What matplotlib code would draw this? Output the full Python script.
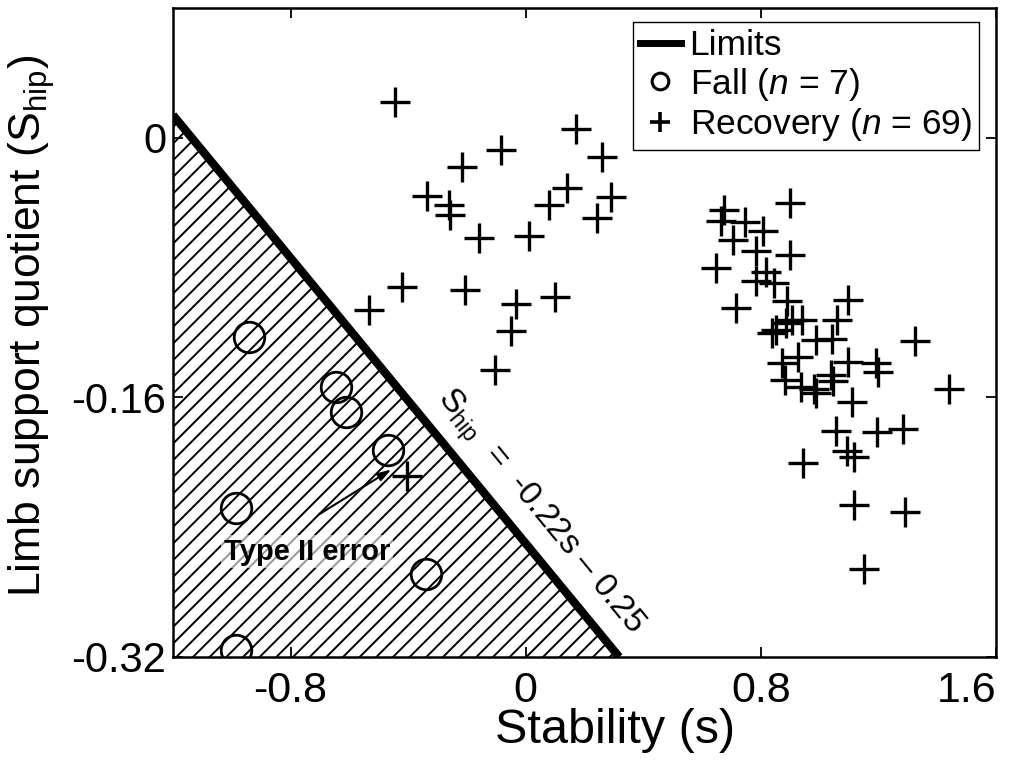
import numpy as np
import matplotlib
matplotlib.use("Agg")
import matplotlib.pyplot as plt
from matplotlib.lines import Line2D

plt.rcParams['font.family'] = 'Liberation Sans'
plt.rcParams['mathtext.fontset'] = 'custom'
plt.rcParams['mathtext.rm'] = 'Liberation Sans'
plt.rcParams['mathtext.it'] = 'Liberation Sans:italic'
plt.rcParams['hatch.linewidth'] = 1.4

# limit line  S_hip = a*s + b
slope = -0.22
intercept = -0.25

# falls (circles)
fall_s = [-0.943, -0.647, -0.611, -0.470, -0.986, -0.338, -0.986]
fall_q = [-0.1226, -0.1533, -0.1690, -0.1925, -0.2283, -0.2686, -0.3156]

# recoveries (plus)
rec_s = [-0.443, 0.170, -0.085, 0.259, -0.218, 0.140, -0.337, -0.262, 0.289, 0.078,
         -0.259, 0.242, -0.160, 0.010, -0.422, -0.208, 0.099, -0.534, -0.034, -0.051,
         -0.106,
         0.899, 0.674, 0.664, 0.746, 0.705, 0.807, 0.899, 0.783, 0.647, 0.817,
         0.783, 0.844, 0.889, 0.715, 1.096, 1.059, 0.906, 0.940, 0.851, 0.837,
         0.885, 0.987, 1.042, 1.324, 0.926, 0.871, 1.096, 1.191, 1.198, 0.882,
         1.038, 1.045, 0.980, 0.987, 0.936, 1.440, 1.110, 1.055, 1.195, 1.283,
         1.093, 1.117, 0.943, 1.117, 1.290, 1.151]
rec_q = [0.0221, 0.0055, -0.0074, -0.0116, -0.0178, -0.0307, -0.0356, -0.0417, -0.0362, -0.0417,
         -0.0478, -0.0497, -0.0619, -0.0607, -0.0920, -0.0938, -0.0981, -0.1061, -0.1024, -0.1189,
         -0.1429,
         -0.0399, -0.0448, -0.0515, -0.0521, -0.0632, -0.0576, -0.0723, -0.0699, -0.0803, -0.0828,
         -0.0883, -0.0895, -0.1006, -0.1048, -0.0999, -0.1122, -0.1122, -0.1122, -0.1183, -0.1202,
         -0.1140, -0.1245, -0.1239, -0.1251, -0.1349, -0.1386, -0.1380, -0.1386, -0.1441, -0.1490,
         -0.1459, -0.1502, -0.1551, -0.1570, -0.1539, -0.1551, -0.1631, -0.1809, -0.1815, -0.1796,
         -0.1931, -0.1968, -0.2005, -0.2262, -0.2305, -0.2655]

# misclassified recovery (type II error)
err_s = [-0.405]
err_q = [-0.2085]

xlim = (-1.2, 1.6)
ylim = (-0.32, 0.08)
xticks = [-0.8, 0, 0.8, 1.6]
xticklabels = ['-0.8', '0', '0.8', '1.6']
yticks = [-0.32, -0.16, 0]
yticklabels = ['-0.32', '-0.16', '0']

fig = plt.figure(figsize=(10.17, 7.66), dpi=100)
ax = fig.add_axes([0.1701, 0.1423, 0.8092, 0.8473])
ax.set_xlim(*xlim)
ax.set_ylim(*ylim)

# hatched fall region below the limit line
x_end = (ylim[0] - intercept) / slope
poly_x = [xlim[0], xlim[0], x_end]
poly_y = [ylim[0], slope * xlim[0] + intercept, ylim[0]]
ax.fill(poly_x, poly_y, facecolor='white', edgecolor='black', hatch='//', lw=0, zorder=1)

lx = np.array([xlim[0], x_end])
ax.plot(lx, slope * lx + intercept, color='black', lw=6, solid_capstyle='butt', zorder=2)

ax.plot(fall_s, fall_q, ls='none', marker='o', ms=22, mfc='none', mec='black', mew=2, zorder=3)
ax.plot(rec_s, rec_q, ls='none', marker='+', ms=22, mec='black', mew=2.4, zorder=3)
ax.plot(err_s, err_q, ls='none', marker='+', ms=22, mec='black', mew=2.4, zorder=3)

# equation along the line
p1 = ax.transData.transform((lx[0], slope * lx[0] + intercept))
p2 = ax.transData.transform((lx[1], slope * lx[1] + intercept))
ang = np.degrees(np.arctan2(p2[1] - p1[1], p2[0] - p1[0]))
ax.text(0.045, -0.231, 'S$_{\\rm hip}$  =  -0.22s \u2013 0.25',
        rotation=ang, rotation_mode='anchor', ha='center', va='center', fontsize=24, zorder=4)

ax.annotate('', xy=(-0.449, -0.2035), xytext=(-0.711, -0.2330),
            arrowprops=dict(arrowstyle='-|>,head_width=0.25,head_length=0.8', lw=1.5, color='black'),
            zorder=4)
ax.text(-0.744, -0.255, 'Type II error', fontsize=21, fontweight='bold', ha='center', va='center',
        bbox=dict(facecolor='white', alpha=0.6, edgecolor='none', pad=2), zorder=4)

ax.set_xticks(xticks)
ax.set_xticklabels(xticklabels, fontsize=31)
ax.set_yticks(yticks)
ax.set_yticklabels(yticklabels, fontsize=30)
ax.xaxis.get_majorticklabels()[-1].set_horizontalalignment('right')
ax.tick_params(direction='in', length=7, width=1.3, top=True, right=True)
ax.tick_params(axis='x', pad=10)
ax.tick_params(axis='y', pad=5)
for sp in ax.spines.values():
    sp.set_linewidth(1.8)

ax.set_xlabel('Stability (s)', fontsize=35)
ax.xaxis.set_label_coords(0.537, -0.078)
ax.set_ylabel(r'Limb support quotient (S$_{\rm hip}$)', fontsize=32)
ax.yaxis.set_label_coords(-0.141, 0.51)

handles = [Line2D([], [], color='black', lw=5),
           Line2D([], [], ls='none', marker='o', ms=12, mfc='none', mec='black', mew=2.2),
           Line2D([], [], ls='none', marker='+', ms=14, mec='black', mew=2.6)]
labels = ['Limits', r'Fall ($\it{n}$ = 7)', r'Recovery ($\it{n}$ = 69)']
leg = ax.legend(handles, labels, loc='upper right', bbox_to_anchor=(0.979, 0.978),
                borderaxespad=0, fontsize=25.5, handlelength=1.15, handletextpad=0.25,
                labelspacing=0.1, borderpad=0.2, fancybox=False, framealpha=1)
leg.get_frame().set_edgecolor('black')
leg.get_frame().set_linewidth(1.0)

fig.savefig('out.png', dpi=100)
